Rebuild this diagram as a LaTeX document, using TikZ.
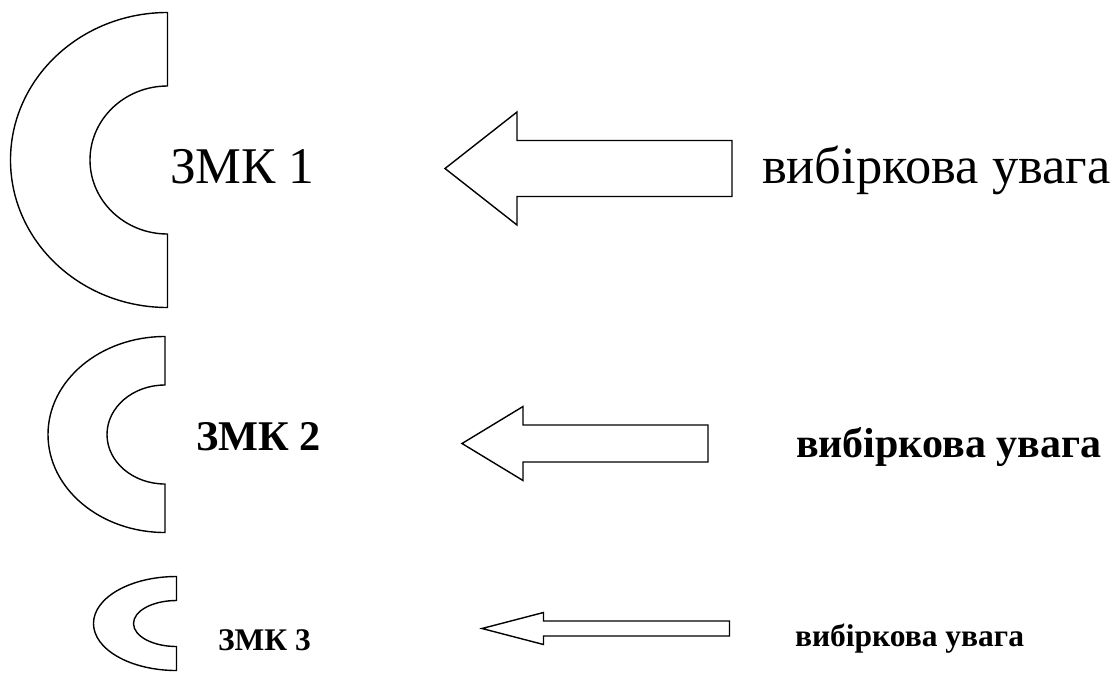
\documentclass[tikz,border=0pt]{standalone}
\usepackage{fontspec}
\setmainfont{Liberation Serif}
\tikzset{
  outline/.style={draw=black, line width=1.4pt, line join=miter, fill=white},
  lbl/.style={inner sep=0pt, outer sep=0pt, anchor=base west},
}
% C-shaped block: #1 = right edge x, #2 = centre y, #3/#4 = outer radii, #5/#6 = inner radii
\newcommand{\cblock}[6]{%
  \draw[outline] (#1,#2-#4) arc[start angle=270, end angle=90, x radius=#3, y radius=#4]
    -- (#1,#2+#6) arc[start angle=90, end angle=270, x radius=#5, y radius=#6] -- cycle;}
% left-pointing block arrow: #1 tip x, #2 centre y, #3 head base x, #4 head half-height,
% #5 shaft half-height, #6 tail x
\newcommand{\larrow}[6]{%
  \draw[outline] (#1,#2) -- (#3,#2-#4) -- (#3,#2-#5) -- (#6,#2-#5) -- (#6,#2+#5)
    -- (#3,#2+#5) -- (#3,#2+#4) -- cycle;}
\begin{document}
\begin{tikzpicture}[x=1pt, y=-1pt]
\useasboundingbox (0,0) rectangle (1118,675);

% row 1
\cblock{167.5}{160}{157}{147.5}{77.5}{74}
\larrow{445}{168.5}{517}{56.5}{28}{732}
\node[lbl, font=\fontsize{51.5}{51.5}\selectfont] (zmk1) at (170,183.5) {ЗМК 1};
\node[lbl, font=\fontsize{52.5}{52.5}\selectfont] (att1) at (762,183.5) {вибіркова увага};

% row 2
\cblock{165}{434.5}{117}{98}{58}{49.5}
\larrow{462}{443.5}{523}{37}{18.5}{708}
\node[lbl, font=\fontsize{42.3}{42.3}\selectfont\bfseries] (zmk2) at (196,450) {ЗМК 2};
\node[lbl, font=\fontsize{42}{42}\selectfont\bfseries] (att2) at (796,457) {вибіркова увага};

% row 3
\cblock{176.5}{623.5}{83}{47}{43}{23}
\larrow{482}{628.5}{543.5}{16}{7.5}{729.5}
\node[lbl, font=\fontsize{31.5}{31.5}\selectfont\bfseries] (zmk3) at (218,650) {ЗМК 3};
\node[lbl, font=\fontsize{31.5}{31.5}\selectfont\bfseries] (att3) at (795,646) {вибіркова увага};
\end{tikzpicture}
\end{document}
